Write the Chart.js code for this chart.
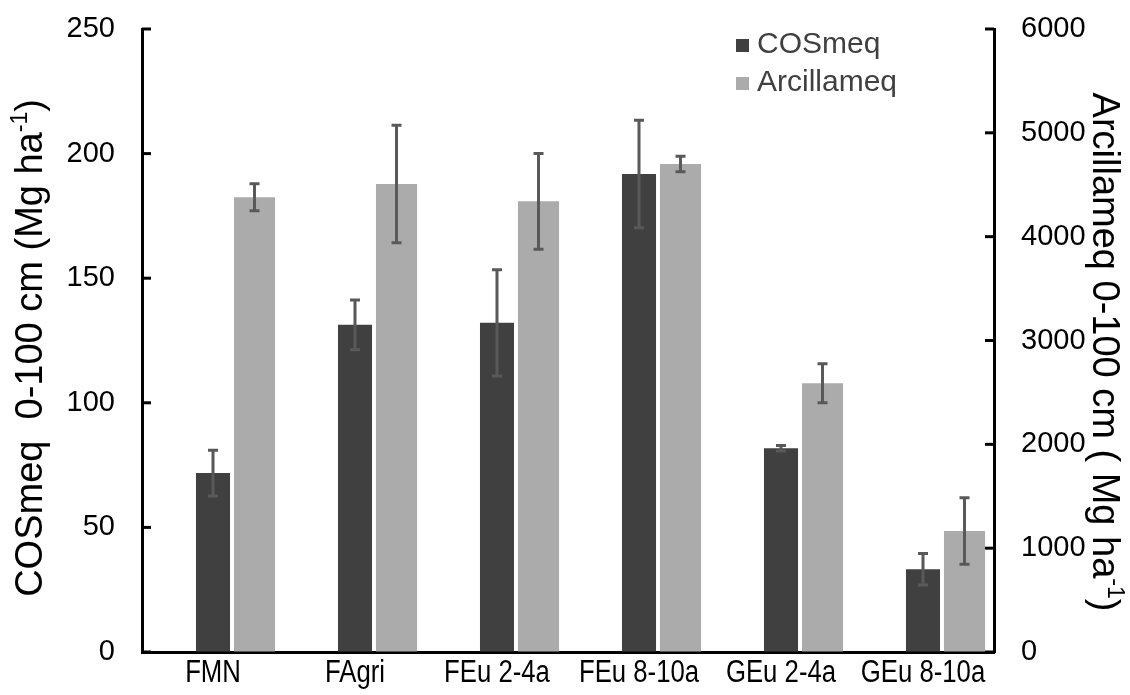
<!DOCTYPE html>
<html>
<head>
<meta charset="utf-8">
<script src="https://cdn.jsdelivr.net/npm/chart.js@4/dist/chart.umd.min.js"></script>
<style>
  html, body { margin: 0; padding: 0; background: #fff; }
  #wrap { width: 1130px; height: 695px; }
</style>
</head>
<body>
<div id="wrap"><canvas id="chart" width="1130" height="695"></canvas></div>
<script>
// values
const categories = ['FMN', 'FAgri', 'FEu 2-4a', 'FEu 8-10a', 'GEu 2-4a', 'GEu 8-10a'];
const cosValues = [71.8, 131.3, 132.1, 191.8, 81.8, 33.2];
const cosErrors = [9.2, 10.0, 21.3, 21.6, 1.1, 6.3];
const arcValues = [4379, 4507, 4340, 4700, 2588, 1165];
const arcErrors = [130, 566, 462, 75, 188, 320];
const leftTicks = [0, 50, 100, 150, 200, 250];
const rightTicks = [0, 1000, 2000, 3000, 4000, 5000, 6000];

const FONT = '"Liberation Sans", Arial, sans-serif';

// error bars drawn from the bar elements + value scales
const errorBars = {
  id: 'errorBars',
  afterDatasetsDraw(chart) {
    const ctx = chart.ctx;
    const sets = [[1, cosValues, cosErrors, 'y'], [2, arcValues, arcErrors, 'y1']];
    ctx.save();
    ctx.strokeStyle = '#595959';
    ctx.lineWidth = 3;
    for (const [idx, vals, errs, axis] of sets) {
      const meta = chart.getDatasetMeta(idx);
      const sc = chart.scales[axis];
      meta.data.forEach((bar, i) => {
        const top = sc.getPixelForValue(vals[i] + errs[i]);
        const bot = sc.getPixelForValue(vals[i] - errs[i]);
        ctx.beginPath();
        ctx.moveTo(bar.x, top); ctx.lineTo(bar.x, bot);
        ctx.moveTo(bar.x - 5, top); ctx.lineTo(bar.x + 5, top);
        ctx.moveTo(bar.x - 5, bot); ctx.lineTo(bar.x + 5, bot);
        ctx.stroke();
      });
    }
    ctx.restore();
  }
};

// inward tick marks, narrow category labels, legend and axis titles
const extras = {
  id: 'extras',
  afterDraw(chart) {
    const ctx = chart.ctx;
    const { x, y, y1 } = chart.scales;
    ctx.save();
    ctx.strokeStyle = '#000';
    ctx.lineWidth = 3;
    leftTicks.forEach(v => {
      const p = y.getPixelForValue(v);
      ctx.beginPath(); ctx.moveTo(y.right, p); ctx.lineTo(y.right + 9, p); ctx.stroke();
    });
    rightTicks.forEach(v => {
      const p = y1.getPixelForValue(v);
      ctx.beginPath(); ctx.moveTo(y1.left, p); ctx.lineTo(y1.left - 9, p); ctx.stroke();
    });

    // category labels (condensed like the original)
    ctx.fillStyle = '#000';
    ctx.font = '31px ' + FONT;
    ctx.textAlign = 'center';
    ctx.textBaseline = 'middle';
    categories.forEach((c, i) => {
      ctx.save();
      ctx.translate(x.getPixelForValue(i), 673);
      ctx.scale(0.83, 1);
      ctx.fillText(c, 0, 0);
      ctx.restore();
    });

    // legend
    ctx.font = '30px ' + FONT;
    ctx.textBaseline = 'middle';
    ctx.textAlign = 'left';
    [1, 2].forEach((idx, r) => {
      const ds = chart.data.datasets[idx];
      const cy = 45 + r * 38;
      ctx.fillStyle = ds.backgroundColor;
      ctx.fillRect(736, cy - 6, 13, 13);
      ctx.fillStyle = '#404040';
      ctx.fillText(ds.label, 757, cy);
    });

    // axis titles with superscript
    const drawTitle = (parts, cx, cy, rot) => {
      ctx.save();
      ctx.translate(cx, cy);
      ctx.rotate(rot);
      ctx.fillStyle = '#000';
      ctx.textBaseline = 'middle';
      ctx.textAlign = 'left';
      const main = '38px ' + FONT, sup = '23px ' + FONT;
      let w = 0;
      parts.forEach(([t, s]) => { ctx.font = s ? sup : main; w += ctx.measureText(t).width; });
      let px = -w / 2;
      parts.forEach(([t, s]) => {
        ctx.font = s ? sup : main;
        ctx.fillText(t, px, s ? -11 : 0);
        px += ctx.measureText(t).width;
      });
      ctx.restore();
    };
    drawTitle([['COSmeq  0-100 cm (Mg ha'], ['-1', true], [')']], 32, 348, -Math.PI / 2);
    drawTitle([['Arcillameq 0-100 cm ( Mg ha'], ['-1', true], [')']], 1103, 352, Math.PI / 2);
    ctx.restore();
  }
};

const fitY = w => s => { s.width = w; s.paddingTop = 0; s.paddingBottom = 0; };

new Chart(document.getElementById('chart'), {
  type: 'bar',
  data: {
    labels: categories,
    datasets: [
      { label: '', data: categories.map(() => null), yAxisID: 'y',
        backgroundColor: 'rgba(0,0,0,0)', categoryPercentage: 0.877, barPercentage: 1 },
      { label: 'COSmeq', data: cosValues, yAxisID: 'y', backgroundColor: '#404040',
        categoryPercentage: 0.877, barPercentage: 0.82 },
      { label: 'Arcillameq', data: arcValues, yAxisID: 'y1', backgroundColor: '#ababab',
        categoryPercentage: 0.877, barPercentage: 0.99 }
    ]
  },
  options: {
    responsive: false,
    animation: false,
    devicePixelRatio: 1,
    layout: { padding: { top: 29, left: 0, right: 0, bottom: 0 } },
    plugins: { legend: { display: false }, tooltip: { enabled: false } },
    scales: {
      x: {
        grid: { display: false, drawTicks: false },
        border: { display: true, color: '#000', width: 3 },
        ticks: { display: false },
        afterFit: s => { s.height = 43; s.paddingLeft = 0; s.paddingRight = 0; }
      },
      y: {
        position: 'left', min: 0, max: 250,
        afterBuildTicks: s => { s.ticks = leftTicks.map(v => ({ value: v })); },
        grid: { drawOnChartArea: false, drawTicks: false },
        border: { display: true, color: '#000', width: 3 },
        ticks: { color: '#000', font: { family: FONT, size: 29 }, padding: 27, callback: v => String(v) },
        afterFit: fitY(142)
      },
      y1: {
        position: 'right', min: 0, max: 6000,
        afterBuildTicks: s => { s.ticks = rightTicks.map(v => ({ value: v })); },
        grid: { drawOnChartArea: false, drawTicks: false },
        border: { display: true, color: '#000', width: 3 },
        ticks: { color: '#000', font: { family: FONT, size: 29 }, padding: 27, callback: v => String(v) },
        afterFit: fitY(136)
      }
    }
  },
  plugins: [errorBars, extras]
});
</script>
</body>
</html>
